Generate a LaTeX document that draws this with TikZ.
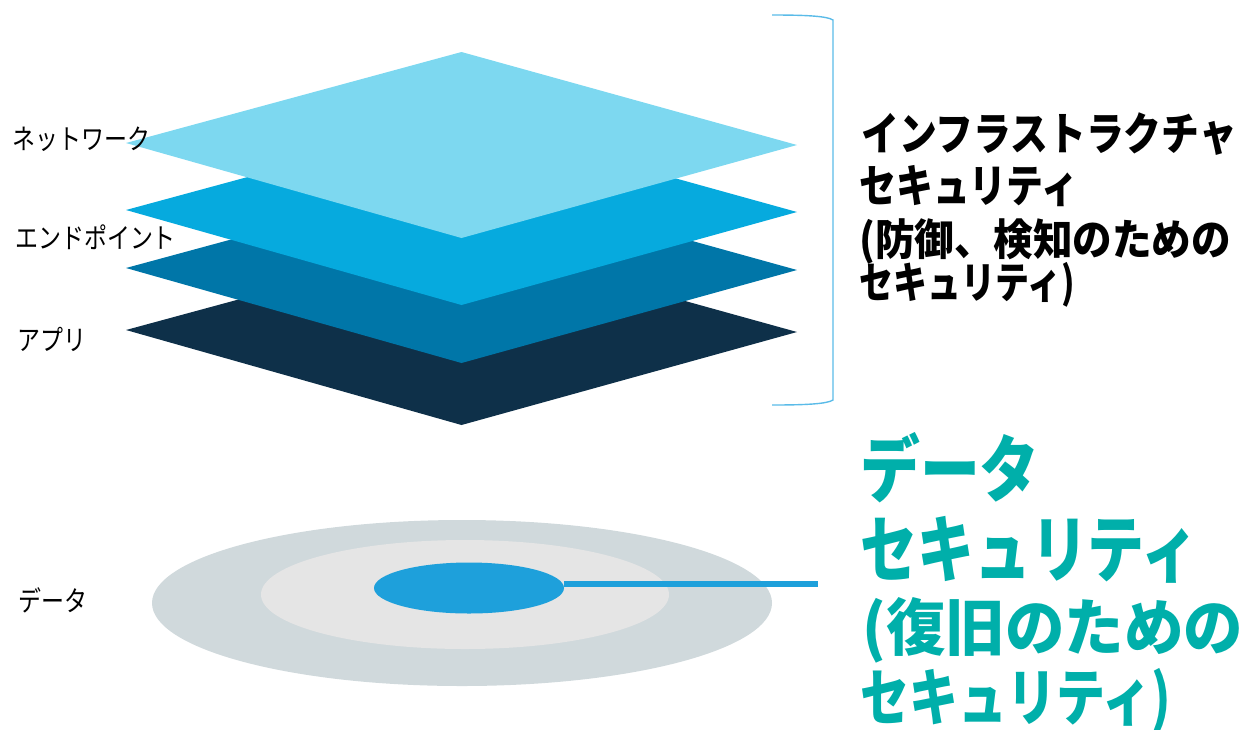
\documentclass[tikz,border=0pt]{standalone}
\usepackage{fontspec}
\usetikzlibrary{shapes.geometric}
\newfontfamily\jpfont{Noto Sans CJK JP}
\newfontfamily\jplabelfont[FakeStretch=0.82]{Noto Sans CJK JP}

\definecolor{layerA}{HTML}{7DD8F0}
\definecolor{layerB}{HTML}{06AADE}
\definecolor{layerC}{HTML}{0076A8}
\definecolor{layerD}{HTML}{0E3049}
\definecolor{ringOuter}{HTML}{D0D9DC}
\definecolor{ringMid}{HTML}{E5E5E5}
\definecolor{coreBlue}{HTML}{1EA0DB}
\definecolor{braceBlue}{HTML}{5ABBE8}
\definecolor{tealText}{HTML}{00AFAA}

\tikzset{
  layerlabel/.style={anchor=base west, inner sep=0pt, font=\jplabelfont\fontsize{28}{28}\selectfont},
  % bold caption line: size, horizontal stretch
  captionline/.style 2 args={anchor=base west, inner sep=0pt,
    font=\jpfont\bfseries\fontsize{#1}{#1}\selectfont\addfontfeatures{FakeStretch=#2}},
  ring/.style={ellipse, inner sep=0pt, draw=none},
}

% one stacked layer: left tip y, fill colour
\newcommand{\stacklayer}[2]{%
  \fill[#2] (126,#1) -- (461.5,#1-91) -- (797,#1+2) -- (461.5,#1+95) -- cycle;}

\begin{document}
\begin{tikzpicture}[x=1pt, y=-1pt]
\useasboundingbox (0,0) rectangle (1252,729);

% stacked infrastructure layers, bottom to top
\stacklayer{330}{layerD}
\stacklayer{268}{layerC}
\stacklayer{210}{layerB}
\stacklayer{143}{layerA}

% layer labels
\node[layerlabel] (lblNet) at (12,149) {ネットワーク};
\node[layerlabel] (lblEnd) at (15,248.5) {エンドポイント};
\node[layerlabel] (lblApp) at (17,350.5) {アプリ};
\node[layerlabel] (lblData) at (18,611) {データ};

% bracket grouping the layers
\draw[braceBlue, line width=1.4pt]
  (772,15) .. controls (805,15) and (827,16) .. (833,20)
  -- (833,400) .. controls (827,404) and (805,405) .. (772,405);

% infrastructure caption
\node[captionline={45}{0.84}] (infra1) at (861,150) {インフラストラクチャ};
\node[captionline={45}{0.82}] (infra2) at (859,202) {セキュリティ};
\node[captionline={43}{0.92}] (infra3) at (859,255) {(防御、検知のための};
\node[captionline={43}{0.79}] (infra4) at (859,298) {セキュリティ)};

% data rings
\node[ring, fill=ringOuter, minimum width=620pt, minimum height=166pt] (outer) at (462,603) {};
\node[ring, fill=ringMid, minimum width=408pt, minimum height=109pt] (middle) at (465,594.5) {};
\node[ring, fill=coreBlue, minimum width=190pt, minimum height=51pt] (core) at (469,588) {};
\coordinate (dataend) at (818,584);
\draw[coreBlue, line width=6pt] (core.east |- dataend) -- (dataend);

% data caption
\node[captionline={73}{0.82}, text=tealText] (data1) at (860,496) {データ};
\node[captionline={73}{0.78}, text=tealText] (data2) at (860,576) {セキュリティ};
\node[captionline={62}{0.96}, text=tealText] (data3) at (862,650) {(復旧のための};
\node[captionline={62}{0.79}, text=tealText] (data4) at (860,720) {セキュリティ)};
\end{tikzpicture}
\end{document}
